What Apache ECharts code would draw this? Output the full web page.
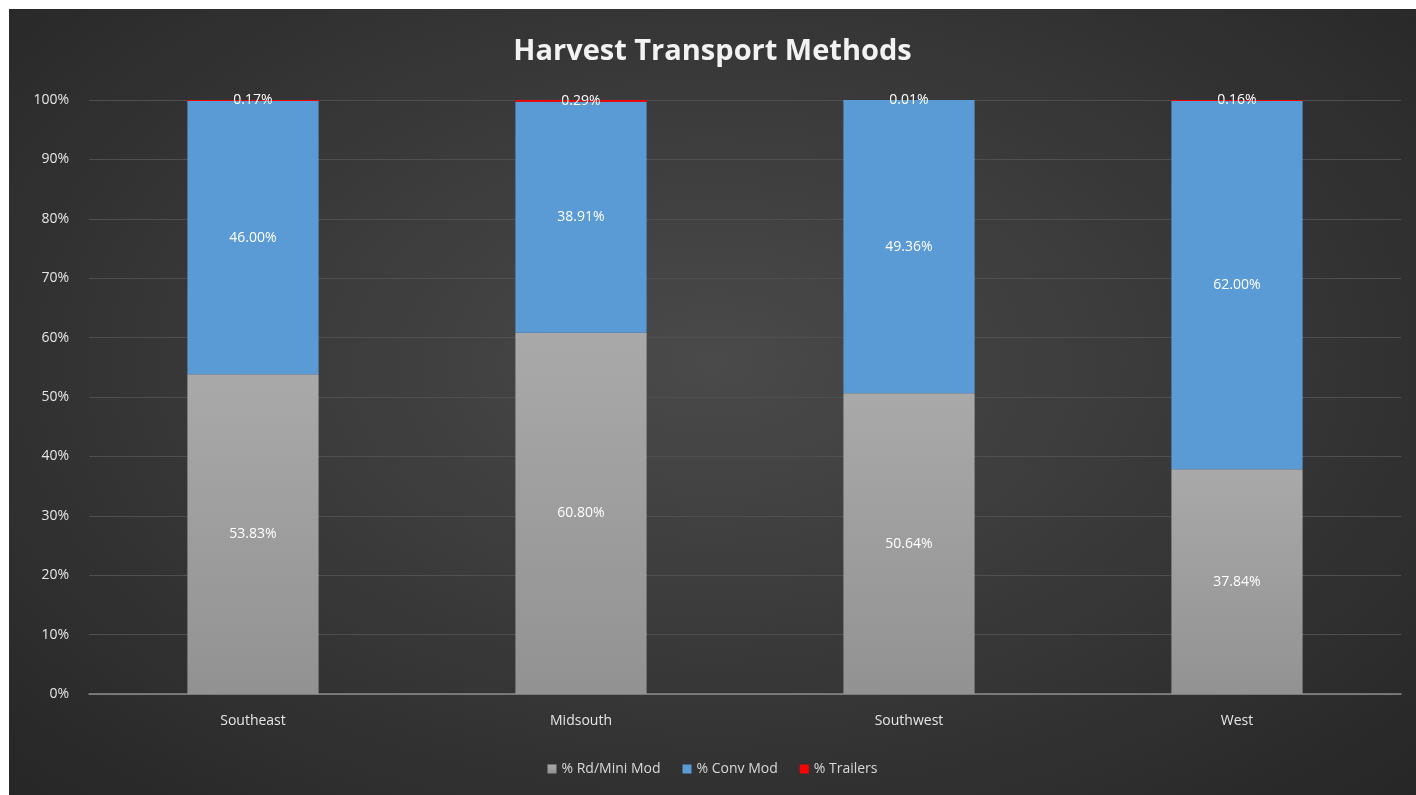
<!DOCTYPE html>
<html><head><meta charset="utf-8">
<script src="https://cdn.jsdelivr.net/npm/echarts@6/dist/echarts.min.js"></script>
<style>
html,body{margin:0;padding:0;background:#ffffff;width:1416px;height:795px;overflow:hidden;}
#c{position:absolute;left:9px;top:9px;width:1407px;height:786px;
background:radial-gradient(ellipse at 50% 45%, #4a4a4a 0%, #3a3a3a 45%, #262626 100%);}
</style></head><body>
<div id="c"></div>
<script>
const categories = ['Southeast', 'Midsouth', 'Southwest', 'West'];
const rdMini = [53.83, 60.80, 50.64, 37.84];
const convMod = [46.00, 38.91, 49.36, 62.00];
const trailers = [0.17, 0.29, 0.01, 0.16];
const seriesNames = ['% Rd/Mini Mod', '% Conv Mod', '% Trailers'];

const chart = echarts.init(document.getElementById('c'), null, {renderer: 'canvas'});
const font = '"Open Sans", "Noto Sans", sans-serif';
const lbl = {
  show: true, position: 'inside', color: '#ffffff', fontSize: 14, fontFamily: font,
  formatter: p => p.value.toFixed(2) + '%'
};
chart.setOption({
  backgroundColor: 'transparent',
  animation: false,
  title: {
    text: 'Harvest Transport Methods', left: 'center', top: 23,
    textStyle: {color: '#f2f2f2', fontSize: 29, fontWeight: 'bold', fontFamily: font}
  },
  legend: {
    bottom: 14, left: 'center', itemWidth: 9, itemHeight: 9, itemGap: 22,
    icon: 'rect',
    textStyle: {color: '#d9d9d9', fontSize: 14, fontFamily: font},
    data: seriesNames
  },
  grid: {left: 80, right: 15, top: 91, bottom: 101},
  xAxis: {
    type: 'category', data: categories,
    axisLine: {lineStyle: {color: '#8c8c8c', width: 1.5}},
    axisTick: {show: false},
    axisLabel: {color: '#e6e6e6', fontSize: 14, fontFamily: font, margin: 20}
  },
  yAxis: {
    type: 'value', min: 0, max: 100, interval: 10,
    axisLabel: {formatter: '{value}%', color: '#e6e6e6', fontSize: 14, fontFamily: font, margin: 20},
    splitLine: {lineStyle: {color: '#4f4f4f', width: 1}},
    axisLine: {show: false}, axisTick: {show: false}
  },
  series: [
    {name: seriesNames[0], type: 'bar', stack: 's', data: rdMini, barWidth: '40%',
     itemStyle: {color: new echarts.graphic.LinearGradient(0, 0, 0, 1, [
       {offset: 0, color: '#a9a9a9'}, {offset: 1, color: '#929292'}])},
     label: lbl},
    {name: seriesNames[1], type: 'bar', stack: 's', data: convMod, barWidth: '40%',
     itemStyle: {color: '#5b9bd5'}, label: lbl},
    {name: seriesNames[2], type: 'bar', stack: 's', data: trailers, barWidth: '40%',
     itemStyle: {color: '#ff0000'}, label: lbl}
  ]
});
</script>
</body></html>
